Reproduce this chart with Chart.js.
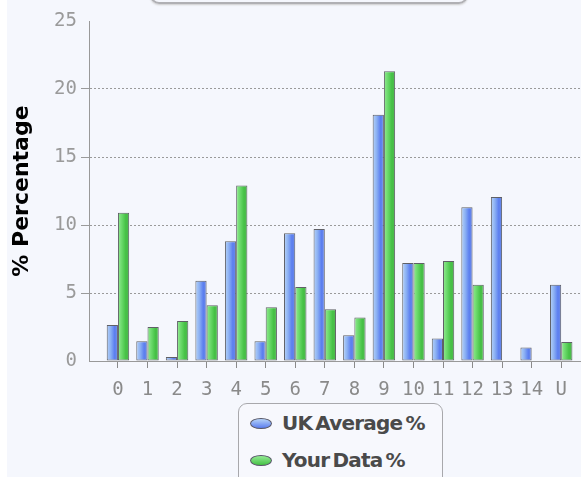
<!DOCTYPE html>
<html>
<head>
<meta charset="utf-8">
<script src="https://cdn.jsdelivr.net/npm/chart.js@4"></script>
<style>
	html, body { margin: 0; padding: 0; }
	body { width: 581px; height: 477px; background: #f5f7fd; position: relative; overflow: hidden; }
	#strip { position: absolute; left: 0; top: 0; width: 7px; height: 477px; background: #fff; }
	#titleBox { position: absolute; left: 150px; top: -40px; width: 314px; height: 40px; border: 2px solid #b0b0b4; border-radius: 9px; box-shadow: 0 1px 2px #ccc; }
	#canvas { position: absolute; left: 0; top: 0; }
	#legend { position: absolute; left: 238px; top: 403px; width: 203px; height: 90px; border: 1px solid #a8a8ac; border-radius: 9px; background: #f7f8fd; }
	.item { position: absolute; left: 11px; height: 24px; display: flex; align-items: center; font: bold 20px 'DejaVu Sans'; letter-spacing: -0.8px; word-spacing: -3px; color: #4a4a4a; white-space: nowrap; }
	.mark { width: 20px; height: 9px; border: 1px solid #556; border-radius: 50%; margin-right: 10px; }
</style>
</head>
<body>
<div id="strip"></div>
<div id="titleBox"></div>
<canvas id="canvas" width="581" height="477"></canvas>
<div id="legend"></div>
<script>
const categories = ['0', '1', '2', '3', '4', '5', '6', '7', '8', '9', '10', '11', '12', '13', '14', 'U'];
const ukAverage = [2.65, 1.45, 0.3, 5.9, 8.8, 1.45, 9.4, 9.7, 1.9, 18.1, 7.2, 1.65, 11.3, 12.05, 1.0, 5.6];
const yourData = [10.9, 2.5, 2.95, 4.1, 12.9, 3.95, 5.45, 3.8, 3.2, 21.3, 7.2, 7.35, 5.6, 0, 0, 1.4];
const yTicks = [0, 5, 10, 15, 20, 25];
const seriesNames = ['UK Average %', 'Your Data %'];

const blueStops = ['#b6d3f8', '#8cb1f3', '#5b7ef0', '#6d8ce6'];
const greenStops = ['#94ea94', '#6ad96a', '#45c145', '#52b852'];
const catPct = 0.76;

// horizontal gradient across each bar
function barFill(stops) {
	return (c) => {
		const xs = c.chart.scales.x;
		if (c.type !== 'data' || !xs || !xs.width) return stops[1];
		const step = xs.getPixelForValue(1) - xs.getPixelForValue(0);
		const bw = (step * catPct) / 2;
		const cx = xs.getPixelForValue(c.dataIndex) + (c.datasetIndex === 0 ? -bw / 2 : bw / 2);
		const g = c.chart.ctx.createLinearGradient(cx - bw / 2, 0, cx + bw / 2, 0);
		g.addColorStop(0, stops[0]);
		g.addColorStop(0.35, stops[1]);
		g.addColorStop(0.7, stops[2]);
		g.addColorStop(1, stops[3]);
		return g;
	};
}

const ctx = document.getElementById('canvas').getContext('2d');

const chart = new Chart(ctx, {
	type: 'bar',
	data: {
		datasets: [
			{
				label: seriesNames[0],
				data: ukAverage.map((v, i) => ({ x: i, y: v })),
				backgroundColor: barFill(blueStops),
				borderColor: '#5f6066',
				borderWidth: 1,
				borderSkipped: false,
			},
			{
				label: seriesNames[1],
				data: yourData.map((v, i) => ({ x: i, y: v })),
				backgroundColor: barFill(greenStops),
				borderColor: '#5f6066',
				borderWidth: 1,
				borderSkipped: false,
			},
		],
	},
	options: {
		responsive: false,
		animation: false,
		devicePixelRatio: 1,
		layout: { padding: { top: 21, right: 0, bottom: 76, left: 0 } },
		datasets: { bar: { categoryPercentage: catPct, barPercentage: 1 } },
		plugins: { legend: { display: false }, tooltip: { enabled: false } },
		scales: {
			x: {
				type: 'linear',
				offset: false,
				min: -0.98,
				max: 15.67,
				afterFit: (s) => { s.height = 40; },
				afterBuildTicks: (s) => { s.ticks = categories.map((c, i) => ({ value: i })); },
				ticks: {
					autoSkip: false,
					maxRotation: 0,
					padding: 11,
					color: '#8a8a8a',
					font: { family: 'DejaVu Sans Mono', size: 19 },
					callback: (v) => categories[v],
				},
				grid: { offset: false, drawOnChartArea: false, tickLength: 7, tickColor: '#8a8a8a' },
				border: { color: '#999' },
			},
			y: {
				min: 0,
				max: 25,
				afterFit: (s) => { s.width = 89; },
				afterBuildTicks: (s) => { s.ticks = yTicks.map((v) => ({ value: v })); },
				ticks: {
					padding: 4,
					color: '#9a9a9a',
					font: { family: 'DejaVu Sans Mono', size: 19 },
				},
				grid: {
					tickLength: 8,
					color: (c) => (c.tick && (c.tick.value === 0 || c.tick.value === 25) ? 'rgba(0,0,0,0)' : '#9a9a9a'),
					tickColor: (c) => (c.tick && (c.tick.value === 0 || c.tick.value === 25) ? 'rgba(0,0,0,0)' : '#9a9a9a'),
					tickBorderDash: [],
				},
				border: { color: '#999', dash: [2, 2] },
				title: {
					display: true,
					text: '% Percentage',
					color: '#000',
					padding: { top: 9, bottom: 0 },
					font: { family: 'DejaVu Sans', weight: 'bold', size: 22 },
				},
			},
		},
	},
});

// legend built from the dataset labels
const legend = document.getElementById('legend');
const markFills = [
	'linear-gradient(#b6d3f8, #5b7ef0)',
	'linear-gradient(#94ea94, #45c145)',
];
seriesNames.forEach((name, i) => {
	const item = document.createElement('div');
	item.className = 'item';
	item.style.top = (7 + i * 37) + 'px';
	const mark = document.createElement('span');
	mark.className = 'mark';
	mark.style.background = markFills[i];
	item.appendChild(mark);
	item.appendChild(document.createTextNode(name));
	legend.appendChild(item);
});
</script>
</body>
</html>
